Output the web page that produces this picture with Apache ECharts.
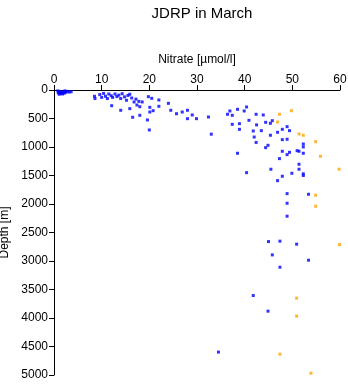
<!DOCTYPE html>
<html><head><meta charset="utf-8">
<script src="https://cdn.jsdelivr.net/npm/echarts@6/dist/echarts.min.js"></script>
<style>html,body{margin:0;padding:0;background:#fff}#c{width:348px;height:384px}</style>
</head><body><div id="c"></div>
<script>
var blueNitrate = [0.8,1.0,1.2,1.4,1.6,1.8,2.0,2.2,2.5,2.8,3.2,3.6,1.1,1.5,2.3,0.9,
8.5,8.6,9.6,10.0,10.4,10.8,11.2,11.5,12.0,12.3,12.8,13.2,13.6,14.0,14.3,14.8,15.2,15.5,15.9,16.3,16.8,17.2,17.4,17.8,18.0,18.5,12.1,14.0,16.5,18.0,15.9,19.6,20.0,19.8,20.1,20.5,20.8,20.1,22.0,22.0,24.0,24.5,25.7,26.9,28.0,28.0,29.0,29.9,32.4,33.0,36.4,36.9,37.4,38.5,38.9,38.9,37.4,38.5,39.9,40.4,40.9,42.4,41.8,42.0,42.5,42.4,43.9,44.4,44.4,43.5,44.9,45.4,45.4,45.8,46.9,45.5,47.3,47.9,47.9,47.9,46.9,47.9,48.9,48.9,48.9,49.4,49.4,49.9,48.9,40.4,51.0,51.4,51.4,51.4,52.3,52.3,52.3,52.3,52.3,53.4,48.9,48.9,45.0,47.4,50.9,45.8,53.4,47.4,41.8,44.9,34.5];
var blueDepth = [15,35,55,25,45,70,30,55,40,25,35,30,75,60,15,50,
110,150,80,130,60,110,150,70,100,130,70,115,90,150,65,120,180,95,75,140,210,160,263,200,293,210,275,356,478,444,327,526,701,117,304,146,363,386,175,286,234,356,416,386,356,503,438,503,473,775,426,368,444,339,591,690,602,1110,368,298,532,426,719,825,612,920,438,567,1011,713,970,584,794,538,742,1390,1204,690,1075,1513,1590,871,643,864,1134,713,1093,1461,1818,1450,1064,1075,1303,1390,947,999,1110,1470,1500,1829,1987,2214,2659,2652,2705,2893,2986,3109,3606,3880,4598];
var orangeNitrate = [47.3,46.9,49.8,51.4,52.3,54.9,55.9,59.8,54.9,54.9,59.9,50.9,50.9,47.4,53.9];
var orangeDepth = [426,561,363,771,794,906,1162,1390,1846,2039,2712,3652,3967,4634,4967];
var xTicks = [0,10,20,30,40,50,60];
var yTicks = [0,500,1000,1500,2000,2500,3000,3500,4000,4500,5000];

function pairs(xs, ys){ return xs.map(function(v,i){ return [v, ys[i]]; }); }
var font = 'Liberation Sans';
var chart = echarts.init(document.getElementById('c'), null, {renderer:'canvas'});
chart.setOption({
  animation:false,
  backgroundColor:'#fff',
  title:{text:'JDRP in March', left:197, top:1, textAlign:'center',
    textStyle:{fontFamily:font, fontSize:15, fontWeight:'normal', color:'#000'}},
  grid:{left:54, right:8, top:90, bottom:9, containLabel:false, outerBoundsMode:'none'},
  xAxis:{type:'value', position:'top', min:xTicks[0], max:xTicks[xTicks.length-1], interval:10,
    name:'Nitrate [µmol/l]', nameLocation:'middle', nameGap:24,
    nameTextStyle:{fontFamily:font, fontSize:12, color:'#000'},
    axisLine:{show:true, lineStyle:{color:'#000', width:1}},
    axisTick:{show:true, inside:false, length:5, lineStyle:{color:'#000'}},
    axisLabel:{fontFamily:font, fontSize:12, color:'#000', margin:4, formatter:function(v){return String(v);}},
    splitLine:{show:false}},
  yAxis:{type:'value', inverse:true, min:yTicks[0], max:yTicks[yTicks.length-1], interval:500,
    name:'Depth [m]', nameLocation:'middle', nameGap:41, nameRotate:90,
    nameTextStyle:{fontFamily:font, fontSize:12, color:'#000'},
    axisLine:{show:true, lineStyle:{color:'#000', width:1}},
    axisTick:{show:true, length:5, lineStyle:{color:'#000'}},
    axisLabel:{fontFamily:font, fontSize:12, color:'#000', margin:6, formatter:function(v){return String(v);}},
    splitLine:{show:false}},
  series:[
    {type:'scatter', symbol:'rect', symbolSize:3, itemStyle:{color:'#0000ff'}, data:pairs(blueNitrate, blueDepth)},
    {type:'scatter', symbol:'rect', symbolSize:3, itemStyle:{color:'#ffa500'}, data:pairs(orangeNitrate, orangeDepth)}
  ]
});
</script></body></html>
